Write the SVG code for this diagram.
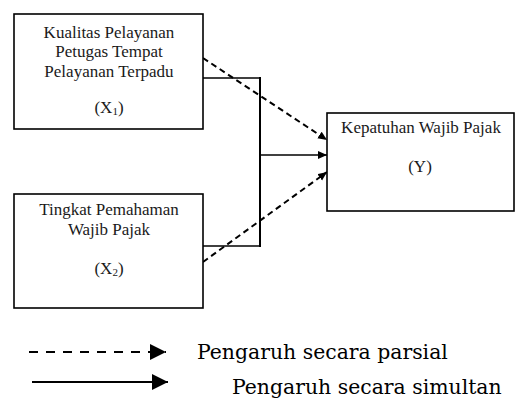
<svg xmlns="http://www.w3.org/2000/svg" width="515" height="403" viewBox="0 0 515 403">
<style>
.box{fill:#fff;stroke:#000;stroke-width:1.6}
.t{font-family:"Liberation Serif","Times New Roman",serif;font-size:17px;fill:#1a1a1a;text-anchor:middle}
.sub{font-size:11px}
.ln{stroke:#000;fill:none}
.dash{stroke:#000;fill:none;stroke-width:2;stroke-dasharray:6 4}
.leg{font-family:"DejaVu Serif",serif;font-size:20.4px;fill:#000}
</style>
<defs>
<marker id="ah" markerUnits="userSpaceOnUse" markerWidth="10" markerHeight="10" refX="9" refY="4" orient="auto"><path d="M0,0 L9,4 L0,8 Z" fill="#000"/></marker>
<marker id="ahL" markerUnits="userSpaceOnUse" markerWidth="18" markerHeight="18" refX="16" refY="8" orient="auto"><path d="M0,0 L16,8 L0,16 Z" fill="#000"/></marker>
</defs>
<g id="connectors">
<polyline class="ln" stroke-width="1.5" points="203,78 260,78"/>
<polyline class="ln" stroke-width="1.5" points="203,246 260,246"/>
<line class="ln" stroke-width="2" x1="260" y1="77" x2="260" y2="247"/>
<line class="ln" stroke-width="1.5" x1="260" y1="155" x2="327" y2="155" marker-end="url(#ah)"/>
<line class="dash" x1="203" y1="58" x2="327" y2="140" marker-end="url(#ah)"/>
<line class="dash" x1="203" y1="262" x2="327" y2="172" marker-end="url(#ah)"/>
</g>
<g id="node-x1">
<rect class="box" x="14" y="14" width="189" height="115"/>
<text class="t" x="109" y="38">Kualitas Pelayanan</text>
<text class="t" x="109" y="57">Petugas Tempat</text>
<text class="t" x="109" y="77">Pelayanan Terpadu</text>
<text class="t" x="109" y="113">(X<tspan class="sub" dy="2">1</tspan><tspan dy="-2">)</tspan></text>
</g>
<g id="node-x2">
<rect class="box" x="14" y="194" width="189" height="114"/>
<text class="t" x="109" y="215">Tingkat Pemahaman</text>
<text class="t" x="109" y="235">Wajib Pajak</text>
<text class="t" x="109" y="274">(X<tspan class="sub" dy="2">2</tspan><tspan dy="-2">)</tspan></text>
</g>
<g id="node-y">
<rect class="box" x="327" y="113" width="187" height="98"/>
<text class="t" x="421" y="133">Kepatuhan Wajib Pajak</text>
<text class="t" x="420" y="172">(Y)</text>
</g>
<g id="legend">
<line x1="29" y1="352" x2="166" y2="352" stroke="#000" stroke-width="2" stroke-dasharray="9 8" marker-end="url(#ahL)"/>
<line x1="32" y1="382" x2="168" y2="382" stroke="#000" stroke-width="2" marker-end="url(#ahL)"/>
<text class="leg" x="197" y="359">Pengaruh secara parsial</text>
<text class="leg" x="232" y="394">Pengaruh secara simultan</text>
</g>
</svg>
